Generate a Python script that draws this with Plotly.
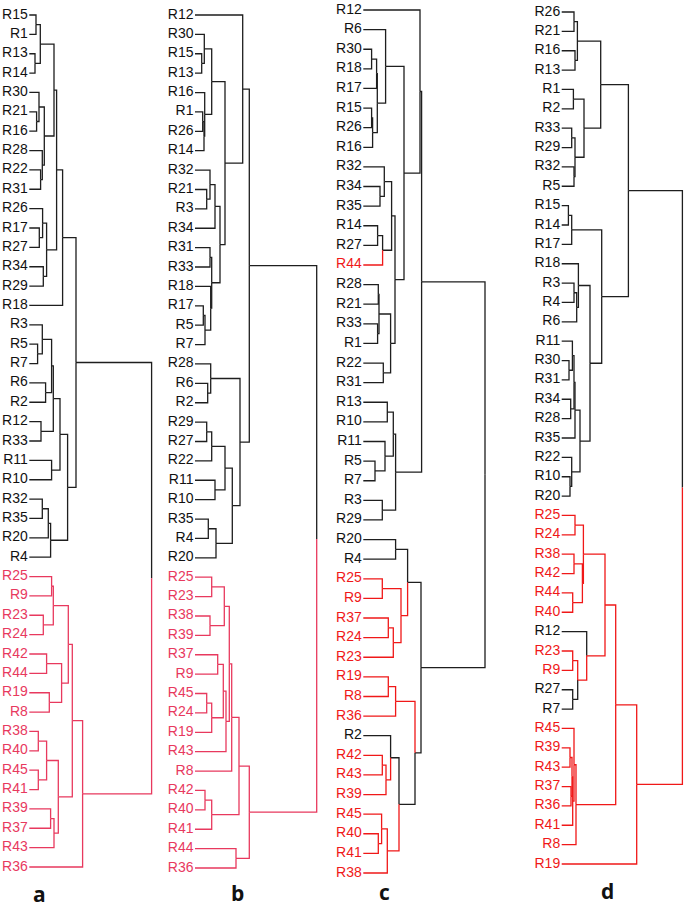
import plotly.graph_objects as go

# leaves drawn in red in every panel
RED_GROUP = ["R8", "R9", "R19", "R23", "R24", "R25", "R36", "R37", "R38",
             "R39", "R40", "R41", "R42", "R43", "R44", "R45"]

# trees as nested (left, right, merge height); leaf order follows nesting
TREE_A = (
    (
        (
            (
                (
                    (("R15", "R1", 6.7), ("R13", "R14", 5.7), 11),
                    (("R30", ("R21", "R16", 7.3), 9.7), ("R28", ("R22", "R31", 11.3), 13), 15),
                    24.7,
                ),
                (("R26", ("R17", "R27", 10), 13.3), ("R34", "R29", 14), 17.3),
                27.3,
            ),
            "R18",
            33.3,
        ),
        (
            (
                ((("R3", ("R5", "R7", 8.3), 13), ("R6", "R2", 16.3), 22.3), ("R12", "R33", 11.7), 24),
                ("R11", "R10", 22.3),
                30.7,
            ),
            ((("R32", "R35", 13), "R20", 19), "R4", 21.3),
            38.3,
        ),
        46.7,
    ),
    (
        (
            (
                (("R25", "R9", 22.3), ("R23", "R24", 14), 24),
                (("R42", "R44", 17.3), ("R19", "R8", 20), 32.3),
                39,
            ),
            (
                (("R38", "R40", 9), ("R45", "R41", 9), 17.3),
                (("R39", "R37", 21.3), "R43", 24.7),
                29,
            ),
            43,
        ),
        "R36",
        53.3,
    ),
    122.3,
)

TREE_B = (
    (
        (
            "R12",
            (
                (("R30", ("R15", "R13", 6.7), 9.3), ("R16", (("R1", "R26", 7.7), "R14", 9), 9.7), 16.7),
                (
                    (("R32", ("R21", "R3", 11.7), 15), "R34", 20),
                    (("R31", "R33", 15), ("R18", (("R17", "R5", 8.3), "R7", 10), 15.7), 16.7),
                    25,
                ),
                30,
            ),
            47.7,
        ),
        (
            ("R28", ("R6", "R2", 12.7), 15.7),
            (
                ((("R29", "R27", 11.7), "R22", 16.7), ("R11", "R10", 20), 30),
                (("R35", "R4", 13.3), "R20", 21),
                37.3,
            ),
            45,
        ),
        54.3,
    ),
    (
        (
            (
                (
                    (("R25", "R23", 16.7), ("R38", "R39", 15), 29.3),
                    ((("R37", "R9", 22.7), (("R45", "R24", 11.7), "R19", 16.7), 28.3), "R43", 31),
                    34.3,
                ),
                "R8",
                36.7,
            ),
            (("R42", "R40", 10), "R41", 16.7),
            44,
        ),
        ("R44", "R36", 41),
        54.3,
    ),
    121.7,
)

TREE_C = (
    (
        (
            "R12",
            (
                ("R6", ((("R30", "R18", 8.3), "R17", 13.3), (("R15", "R26", 8.3), "R16", 9.3), 14), 22.3),
                (
                    (("R32", ("R34", "R35", 16.7), 21), (("R14", "R27", 14.3), "R44", 19.3), 28.3),
                    ((("R28", "R21", 15), ("R33", "R1", 14.3), 15.7), ("R22", "R31", 20), 27.3),
                    31.7,
                ),
                40.7,
            ),
            56.7,
        ),
        ((("R13", "R10", 24), ("R11", ("R5", "R7", 11.7), 21.7), 30), ("R3", "R29", 19), 32.3),
        58.3,
    ),
    (
        (("R20", "R4", 32.3), (("R25", "R9", 19), (("R37", "R24", 25), "R23", 30), 37.7), 44.3),
        (
            (("R19", "R8", 25), "R36", 32.3),
            (
                ("R2", (("R42", "R43", 19), "R39", 22.7), 27.3),
                (("R45", ("R40", "R41", 15), 18.3), "R38", 24),
                35.7,
            ),
            51.7,
        ),
        57.7,
    ),
    121.7,
)

TREE_D = (
    (
        (
            (("R26", "R21", 12.3), ("R16", "R13", 13.3), 15.7),
            (("R1", "R2", 11.7), (("R33", "R29", 10), ("R32", "R5", 12.3), 13.3), 22.3),
            39,
        ),
        (
            (("R15", "R14", 6.7), "R17", 10),
            (
                ("R18", (("R3", "R4", 12.3), "R6", 15), 16.7),
                (
                    ((("R11", ("R30", "R31", 7.3), 10.7), ("R34", "R28", 9), 12.3), "R35", 13.3),
                    ("R22", ("R10", "R20", 8.3), 10),
                    18.3,
                ),
                28.3,
            ),
            40,
        ),
        66.7,
    ),
    (
        (
            (
                (("R25", "R24", 13.3), (("R38", "R42", 12.3), ("R44", "R40", 11), 20.7), 21.7),
                ("R12", (("R23", "R9", 11), ("R27", "R7", 11), 16), 25),
                43.3,
            ),
            (("R45", ((("R39", "R43", 8.3), ("R37", "R36", 9.3), 10.3), "R41", 11), 12.3), "R8", 14.3),
            54,
        ),
        "R19",
        75,
    ),
    120.7,
)

PANEL_NAMES = ["a", "b", "c", "d"]
TREES = [TREE_A, TREE_B, TREE_C, TREE_D]

# drawing settings (pixels in the 687x911 page)
W, H = 687, 911
LEAF_X = [29.3, 195, 363.3, 561.7]
ROW_FIRST = [15, 15, 10, 12]
ROW_LAST = [867, 868, 873, 864]
RED = ["#e8395e", "#e8395e", "#f01818", "#f01818"]
BLACK = "#1e1e1e"
MIXED_RED = [False, False, False, True]
NAME_X = [39, 237, 384, 607]
NAME_Y = [894, 893, 892, 891]

red_set = set(RED_GROUP)


def walk(node, order, segs, red, mixed_red):
    """Returns (y, height, colour) of node; collects leaf order and edge segments."""
    if isinstance(node, str):
        order.append(node)
        return len(order) - 1, 0.0, (red if node in red_set else BLACK)
    left, right, h = node
    kids = [walk(left, order, segs, red, mixed_red), walk(right, order, segs, red, mixed_red)]
    y = (kids[0][0] + kids[1][0]) / 2
    for ky, kh, kc in kids:
        segs.setdefault(kc, []).append(([kh, h, h], [ky, ky, y]))
    cols = {kids[0][2], kids[1][2]}
    if len(cols) == 1:
        col = cols.pop()
    else:
        col = red if mixed_red else BLACK
    return y, h, col


fig = go.Figure()
layout = {}
for i, (name, tree) in enumerate(zip(PANEL_NAMES, TREES)):
    order, segs = [], {}
    walk(tree, order, segs, RED[i], MIXED_RED[i])
    sfx = "" if i == 0 else str(i + 1)
    for col, parts in segs.items():
        xs, ys = [], []
        for px, py in parts:
            xs += px + [None]
            ys += py + [None]
        fig.add_trace(go.Scatter(
            x=xs, y=ys, mode="lines", line=dict(color=col, width=1.3),
            hoverinfo="skip", xaxis="x" + sfx, yaxis="y" + sfx, showlegend=False,
            cliponaxis=False,
        ))
    fig.add_trace(go.Scatter(
        x=[-1.5] * len(order), y=list(range(len(order))), mode="text", text=order,
        textposition="middle left",
        textfont=dict(family="Liberation Sans, Arial", size=14,
                      color=[RED[i] if r in red_set else "#111111" for r in order]),
        hoverinfo="skip", xaxis="x" + sfx, yaxis="y" + sfx, showlegend=False,
        cliponaxis=False,
    ))
    step = (ROW_LAST[i] - ROW_FIRST[i]) / (len(order) - 1)
    layout["xaxis" + sfx] = dict(
        domain=[0, 1], range=[-LEAF_X[i], W - LEAF_X[i]], visible=False,
        anchor="y" + sfx, fixedrange=True,
    )
    layout["yaxis" + sfx] = dict(
        domain=[0, 1], range=[(H - ROW_FIRST[i]) / step, -ROW_FIRST[i] / step],
        visible=False, anchor="x" + sfx, fixedrange=True,
    )
    fig.add_annotation(
        x=NAME_X[i] / W, y=1 - NAME_Y[i] / H, xref="paper", yref="paper",
        xanchor="center", yanchor="middle", borderpad=0,
        text="<b>" + name + "</b>", showarrow=False,
        font=dict(family="Open Sans, Arial", size=21, color="#111111"),
    )

fig.update_layout(
    width=W, height=H, margin=dict(l=0, r=0, t=0, b=0),
    paper_bgcolor="white", plot_bgcolor="rgba(0,0,0,0)", **layout,
)
fig.write_html(
    "out.html",
    config={"displayModeBar": False},
    post_script="document.body.style.margin='0';document.body.style.overflow='hidden';",
)
